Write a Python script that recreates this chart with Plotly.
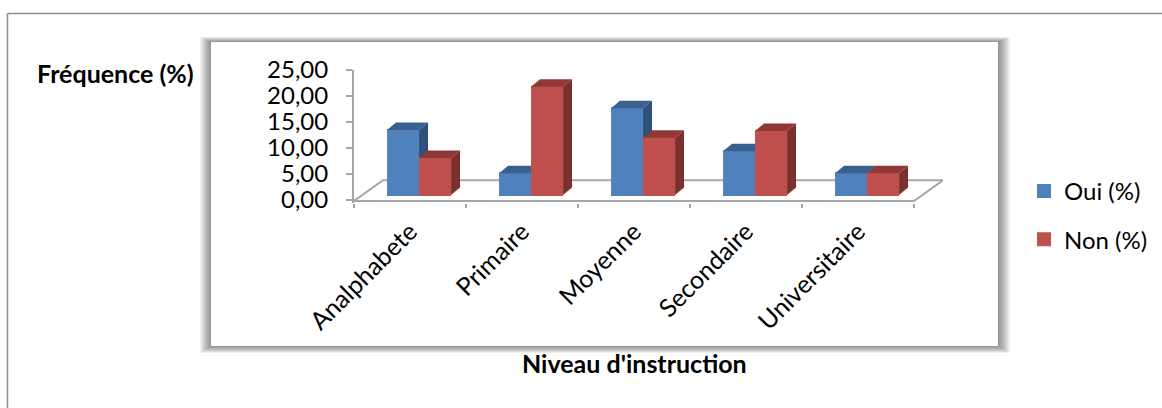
import plotly.graph_objects as go

categories = ["Analphabete", "Primaire", "Moyenne", "Secondaire", "Universitaire"]
oui = [12.5, 4.2, 16.7, 8.4, 4.2]
non = [7.1, 20.8, 11.0, 12.3, 4.2]
y_ticks = [0, 5, 10, 15, 20, 25]
y_tick_labels = ["0,00", "5,00", "10,00", "15,00", "20,00", "25,00"]

W, H = 1162, 408
BLUE, BLUE_TOP, BLUE_SIDE = "#4f81bd", "#3a6090", "#2f5078"
RED, RED_TOP, RED_SIDE = "#c0504d", "#8f3836", "#7c302e"
AXIS = "#a6a6a6"
FONT = "Lato, Carlito, sans-serif"

# pseudo-3D projection, in axis units
BAR_W = 32 / 112          # width of one bar
LINE_W = 2
BAR_W_IN = BAR_W - LINE_W / 112
START = 0.295             # gap before first bar in a category
BASE = 0.96               # front foot of the bars above the axis zero
DX, DY = 9 / 112, 7.5 / 5.2   # bar depth
FX, FY = 29 / 112, 4.0    # floor depth
Y_LOW = -0.2
Y_MIN = -0.6


def px(x):
    return x / W


def py(y):
    return 1 - y / H


def faces(values, offset, top_color, side_color, xa, ya):
    out = []
    for i, v in enumerate(values):
        x0 = i + START + offset
        x1 = x0 + BAR_W
        t = BASE + v
        out.append(go.Scatter(
            x=[x0, x0 + DX, x1 + DX, x1, x0],
            y=[t, t + DY, t + DY, t, t],
            mode="lines", fill="toself", fillcolor=top_color, line=dict(width=0, color=top_color),
            hoverinfo="skip", showlegend=False, xaxis=xa, yaxis=ya))
        out.append(go.Scatter(
            x=[x1, x1 + DX, x1 + DX, x1, x1],
            y=[t, t + DY, BASE + DY, BASE, t],
            mode="lines", fill="toself", fillcolor=side_color, line=dict(width=0, color=side_color),
            hoverinfo="skip", showlegend=False, xaxis=xa, yaxis=ya))
    return out


fig = go.Figure()

# floor outline
n = len(categories)
fig.add_trace(go.Scatter(
    x=[0, FX, n + FX, n, 0], y=[Y_LOW, FY + Y_LOW, FY + Y_LOW, Y_LOW, Y_LOW],
    mode="lines", line=dict(color=AXIS, width=2), hoverinfo="skip", showlegend=False))

centers = [i + 0.5 for i in range(n)]
fig.add_trace(go.Bar(
    x=[i + START + BAR_W / 2 for i in range(n)], y=oui, base=BASE, width=BAR_W_IN,
    name="Oui (%)", marker=dict(color=BLUE, line=dict(color=BLUE, width=LINE_W)),
    legendgroup="oui", xaxis="x2", yaxis="y2"))
for tr in faces(oui, 0, BLUE_TOP, BLUE_SIDE, "x2", "y2"):
    fig.add_trace(tr)

fig.add_trace(go.Bar(
    x=[i + START + BAR_W * 1.5 for i in range(n)], y=non, base=BASE, width=BAR_W_IN,
    name="Non (%)", marker=dict(color=RED, line=dict(color=RED, width=LINE_W)),
    legendgroup="non", xaxis="x3", yaxis="y3"))
for tr in faces(non, BAR_W, RED_TOP, RED_SIDE, "x3", "y3"):
    fig.add_trace(tr)

# panel with its soft shadow
shapes = [dict(type="line", xref="paper", yref="paper", x0=px(7.5), x1=1, y0=py(13.5), y1=py(13.5),
               line=dict(color="#8c8c8c", width=1.5)),
          dict(type="line", xref="paper", yref="paper", x0=px(7.5), x1=px(7.5), y0=py(13.5), y1=0,
               line=dict(color="#8c8c8c", width=1.5))]
STEPS = 9
for k in range(STEPS, 0, -1):
    t = k / STEPS
    shapes.append(dict(type="rect", xref="paper", yref="paper", layer="below",
                       x0=px(211 - 11 * t), x1=px(998 + 12 * t),
                       y0=py(346 + 7 * t), y1=py(42 - 5 * t),
                       fillcolor="rgba(0,0,0,0.055)", line=dict(width=0)))
shapes.append(dict(type="rect", xref="paper", yref="paper", layer="below",
                   x0=px(211), x1=px(998), y0=py(346), y1=py(42),
                   fillcolor="white", line=dict(width=0)))

dom_x = [px(354), px(943)]
dom_y = [py(203.1), py(70)]
x_range = [0, n + FX]
y_range = [Y_MIN, 25]
hidden = dict(domain=dom_x, range=x_range, automargin=False, showticklabels=False, ticks="",
              showline=False, showgrid=False, zeroline=False, fixedrange=True)
hidden_y = dict(domain=dom_y, range=y_range, overlaying="y", automargin=False, showticklabels=False,
                ticks="", showline=False, showgrid=False, zeroline=False, fixedrange=True)

fig.update_layout(
    template="none",
    width=W, height=H, margin=dict(l=0, r=0, t=0, b=0, pad=0), autosize=False,
    paper_bgcolor="white", plot_bgcolor="rgba(0,0,0,0)",
    font=dict(family=FONT, color="black"),
    barmode="overlay", shapes=shapes, showlegend=True,
    legend=dict(x=px(1030), y=py(169), xanchor="left", yanchor="top", indentation=-6,
                font=dict(size=24, family=FONT), tracegroupgap=14,
                bgcolor="rgba(0,0,0,0)", itemclick=False, itemdoubleclick=False),
    xaxis=dict(domain=dom_x, range=x_range, tickvals=list(range(n + 1)), ticktext=[""] * (n + 1),
               ticks="outside", ticklen=4, tickwidth=1.5, tickcolor=AXIS, automargin=False,
               showline=False, showgrid=False, zeroline=False, anchor="y", fixedrange=True),
    yaxis=dict(domain=dom_y, range=y_range, tickvals=y_ticks, ticktext=y_tick_labels,
               ticks="outside", ticklen=6, tickwidth=1.5, tickcolor=AXIS, automargin=False,
               ticklabelstandoff=13,
               showline=True, linecolor=AXIS, linewidth=2, showgrid=False, zeroline=False,
               tickfont=dict(size=24, family=FONT), anchor="x", fixedrange=True),
    xaxis2=dict(domain=dom_x, range=x_range, overlaying="x", anchor="y2", side="bottom",
                tickvals=centers, ticktext=categories, tickangle=-45, automargin=False,
                tickfont=dict(size=25, family=FONT), ticks="outside", ticklen=3,
                tickcolor="rgba(0,0,0,0)", showline=False, showgrid=False, zeroline=False,
                fixedrange=True),
    yaxis2=dict(anchor="x2", **hidden_y),
    xaxis3=dict(overlaying="x", anchor="y3", **hidden),
    yaxis3=dict(anchor="x3", **hidden_y),
    annotations=[
        dict(text="<b>Fréquence (%)</b>", xref="paper", yref="paper", x=px(35), y=py(73),
             xanchor="left", yanchor="middle", showarrow=False, font=dict(size=25, family=FONT)),
        dict(text="<b>Niveau d'instruction</b>", xref="paper", yref="paper", x=px(634), y=py(363),
             xanchor="center", yanchor="middle", showarrow=False, font=dict(size=25, family=FONT)),
    ],
)

fig.write_html("out.html", config={"displayModeBar": False},
               post_script="document.body.style.margin='0';document.documentElement.style.overflow='hidden';")
